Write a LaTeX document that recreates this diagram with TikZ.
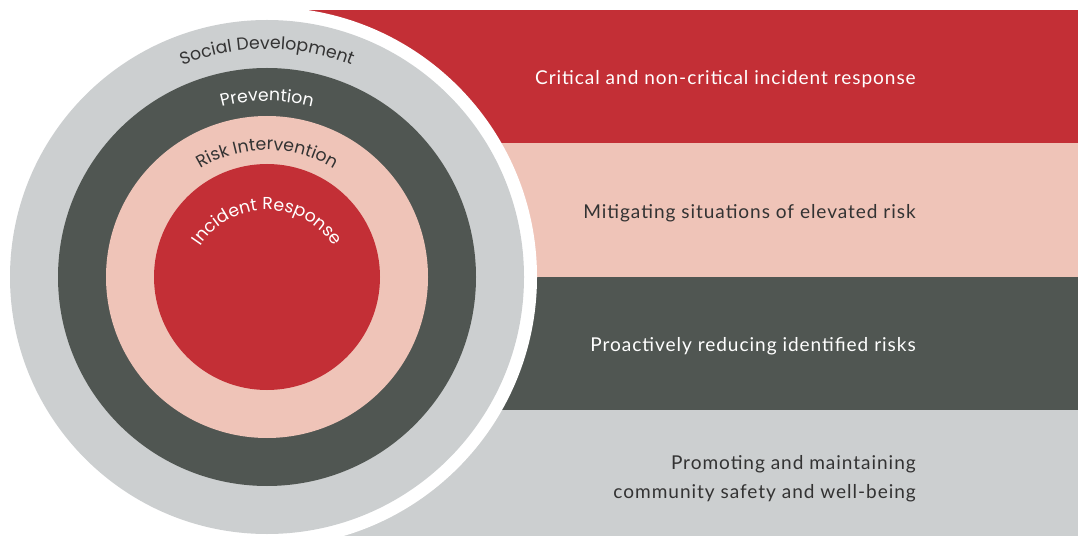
\documentclass[tikz,border=0pt]{standalone}
\usepackage{fontspec}
\setmainfont{Lato}[LetterSpace=5]
\newfontfamily\arcfont{Poppins}
\usetikzlibrary{decorations.text}

\definecolor{irred}{HTML}{C32F36}
\definecolor{ripink}{HTML}{EFC4B8}
\definecolor{prdark}{HTML}{505652}
\definecolor{sdgray}{HTML}{CCCFD0}
\definecolor{txtdark}{HTML}{333333}

\tikzset{
  bandtext/.style={anchor=east, align=right, inner sep=0pt, text=#1,
    font=\fontsize{14.3}{21.75}\selectfont},
  ringlabel/.style 2 args={decorate, decoration={text along path,
    text align=center, text color=#2,
    text={|\arcfont\fontsize{13}{15}\selectfont|#1}}},
}

\begin{document}
\begin{tikzpicture}[x=0.75pt, y=0.75pt]
  \useasboundingbox (0,0) rectangle (1078,536);
  \coordinate (c) at (267,259);
  \coordinate (ir) at (267,246);
  % bands on the right
  \fill[irred] (280,393) rectangle (1078,526);
  \fill[ripink] (280,259) rectangle (1078,393);
  \fill[prdark] (280,126) rectangle (1078,259);
  \fill[sdgray] (280,0) rectangle (1078,126);
  % rings
  \fill[white] (c) circle [radius=270];
  \foreach \r/\col in {257/sdgray, 209/prdark, 161/ripink, 113/irred}
    \fill[\col] (c) circle [radius=\r];
  % ring labels
  \path[ringlabel={Social Development}{txtdark}] (c) ++(150:228) arc[start angle=150, end angle=30, radius=228];
  \path[ringlabel={Prevention}{white}] (c) ++(150:176) arc[start angle=150, end angle=30, radius=176];
  \path[ringlabel={Risk Intervention}{txtdark}] (c) ++(150:127) arc[start angle=150, end angle=30, radius=127];
  \path[ringlabel={Incident Response}{white}] (ir) ++(160:80) arc[start angle=160, end angle=20, radius=80];
  % band texts
  \node[bandtext=white] (critical) at (916,457) {Critical and non-critical incident response};
  \node[bandtext=txtdark] (mitigating) at (916,323) {Mitigating situations of elevated risk};
  \node[bandtext=white] (proactive) at (916,190) {Proactively reducing identified risks};
  \node[bandtext=txtdark] (promoting) at (916,57) {Promoting and maintaining\\community safety and well-being};
\end{tikzpicture}
\end{document}
